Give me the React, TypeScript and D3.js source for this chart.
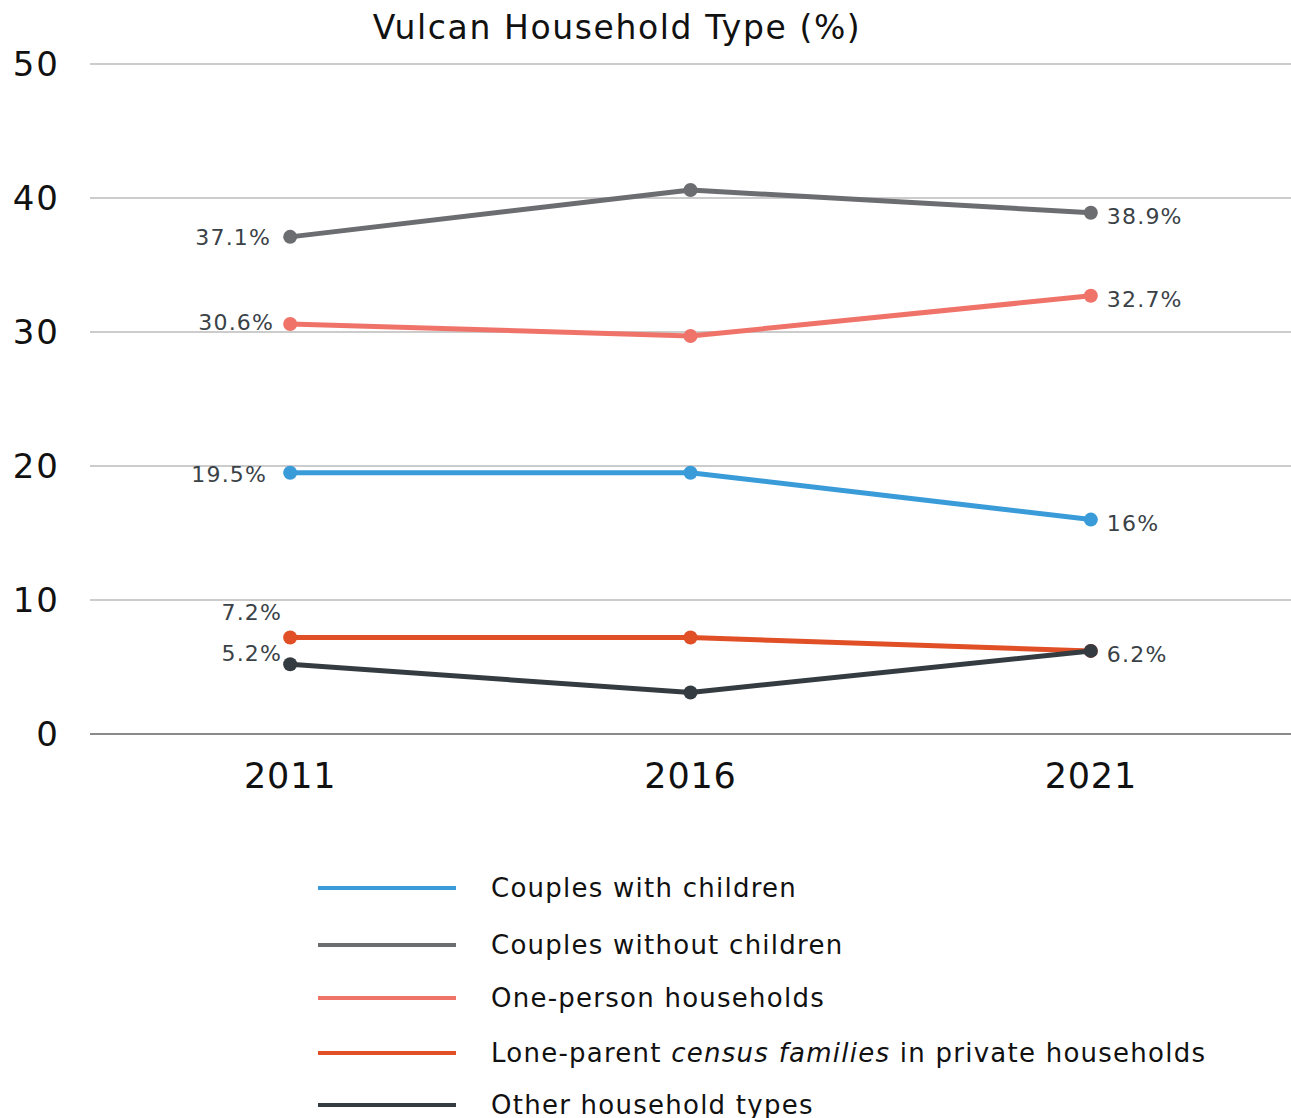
import React from "react";
import * as d3 from "d3";

const years = ["2011", "2016", "2021"];
const seriesNames = [
  "Couples with children",
  "Couples without children",
  "One-person households",
  "Lone-parent census families in private households",
  "Other household types",
];
const couplesWithChildren = [19.5, 19.5, 16];
const couplesWithoutChildren = [37.1, 40.6, 38.9];
const onePerson = [30.6, 29.7, 32.7];
const loneParent = [7.2, 7.2, 6.2];
const otherTypes = [5.2, 3.1, 6.2];
const colors = ["#3a9bd9", "#6b6d70", "#f0736a", "#e04f25", "#353c41"];
const yTicks = [0, 10, 20, 30, 40, 50];

const leftLabels = ["19.5%", "37.1%", "30.6%", "7.2%", "5.2%"];
const rightLabels = ["16%", "38.9%", "32.7%", "", "6.2%"];

const FONT = "'DejaVu Sans', sans-serif";

export default function App() {
  const W = 1291, H = 1118;
  const x = d3.scalePoint<string>().domain(years).range([90, 1291]).padding(0.5);
  const y = d3.scaleLinear().domain([0, 50]).range([734, 64]);
  const allSeries = [couplesWithChildren, couplesWithoutChildren, onePerson, loneParent, otherTypes];
  const line = d3.line<number>().x((_, i) => x(years[i])!).y((d) => y(d));
  const order = [1, 2, 0, 3, 4];
  const leftOffsets: Record<number, [number, number]> = {
    0: [-24, 2],
    1: [-20, 1],
    2: [-17, -1],
    3: [-9, -25],
    4: [-9, -11],
  };
  const legendY = [888, 945, 998, 1053, 1105];
  return (
    <svg width={W} height={H} style={{ position: "absolute", left: 0, top: 0 }}>
      <text x={617} y={29} fontFamily={FONT} fontSize={33} letterSpacing={1.6} textAnchor="middle" dominantBaseline="middle" fill="#111">
        Vulcan Household Type (%)
      </text>
      {yTicks.map((t) => (
        <g key={t}>
          <line x1={90} x2={1291} y1={y(t)} y2={y(t)} stroke={t === 0 ? "#8a8a8a" : "#cccccc"} strokeWidth={2} />
          <text x={60} y={y(t)} fontFamily={FONT} fontSize={34} letterSpacing={2} textAnchor="end" dominantBaseline="central" fill="#111">
            {t}
          </text>
        </g>
      ))}
      {years.map((yr) => (
        <text key={yr} x={x(yr)} y={776} fontFamily={FONT} fontSize={35} letterSpacing={0.8} textAnchor="middle" dominantBaseline="central" fill="#111">
          {yr}
        </text>
      ))}
      {order.map((si) => (
        <g key={si}>
          <path d={line(allSeries[si])!} fill="none" stroke={colors[si]} strokeWidth={5} strokeLinejoin="round" />
          {allSeries[si].map((v, i) => (
            <circle key={i} cx={x(years[i])} cy={y(v)} r={7} fill={colors[si]} />
          ))}
        </g>
      ))}
      {order.map((si) => {
        const s = allSeries[si];
        const [dx, dy] = leftOffsets[si];
        return (
          <g key={"l" + si}>
            <text x={x(years[0])! + dx + 1} y={y(s[0]) + dy} fontFamily={FONT} fontSize={22} letterSpacing={1.2} textAnchor="end" dominantBaseline="central" fill="#3a4247">
              {leftLabels[si]}
            </text>
            {rightLabels[si] && (
              <text x={x(years[2])! + 16} y={y(s[2]) + 4} fontFamily={FONT} fontSize={22} letterSpacing={1.2} textAnchor="start" dominantBaseline="central" fill="#3a4247">
                {rightLabels[si]}
              </text>
            )}
          </g>
        );
      })}
      {seriesNames.map((n, i) => (
        <g key={n}>
          <line x1={318} x2={456} y1={legendY[i]} y2={legendY[i]} stroke={colors[i]} strokeWidth={4} />
          <text x={491} y={legendY[i]} fontFamily={FONT} fontSize={26} letterSpacing={1.25} dominantBaseline="central" fill="#111">
            {i === 3 ? (
              <>
                Lone-parent <tspan fontStyle="italic">census families</tspan> in private households
              </>
            ) : (
              n
            )}
          </text>
        </g>
      ))}
    </svg>
  );
}
